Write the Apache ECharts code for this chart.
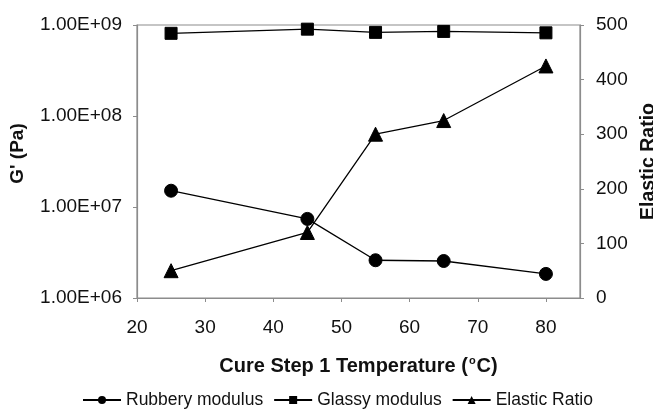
<!DOCTYPE html>
<html>
<head>
<meta charset="utf-8">
<script src="https://cdn.jsdelivr.net/npm/echarts@6/dist/echarts.min.js"></script>
<style>
  html, body { margin: 0; padding: 0; background: #fff; }
  #chart { width: 653px; height: 409px; }
</style>
</head>
<body>
<div id="chart"></div>
<script>
// Cure step 1 temperature (°C)
const temperatures = [25, 45, 55, 65, 80];
// Moduli in Pa
const rubberyModulus = [1.51e7, 7.4e6, 2.6e6, 2.55e6, 1.84e6];
const glassyModulus = [8.1e8, 9.0e8, 8.3e8, 8.5e8, 8.2e8];
// Glassy / rubbery ratio
const elasticRatio = [50, 120, 300, 325, 425];

const seriesNames = ['Rubbery modulus', 'Glassy modulus', 'Elastic Ratio'];

const FONT = '"Liberation Sans", Arial, sans-serif';
const frameColor = '#8c8c8c';

function pairs(xs, ys) {
  return xs.map((x, i) => [x, ys[i]]);
}

function sci(v) {
  const e = Math.round(Math.log10(v));
  return '1.00E+' + String(e).padStart(2, '0');
}

const chart = echarts.init(document.getElementById('chart'), null, { renderer: 'canvas' });

const lineStyle = { color: '#000', width: 1.3 };
const itemStyle = { color: '#000', borderColor: '#000' };

chart.setOption({
  animation: false,
  backgroundColor: '#fff',
  textStyle: { fontFamily: FONT },
  grid: {
    left: 137, right: 73, top: 25, bottom: 111,
    containLabel: false,
    outerBoundsMode: 'none',
    show: true, borderColor: frameColor, borderWidth: 1.2
  },
  legend: {
    top: 391,
    left: 82,
    padding: 0,
    data: seriesNames,
    itemWidth: 38,
    itemHeight: 10,
    itemGap: 10,
    textStyle: { fontFamily: FONT, fontSize: 17.5, color: '#111' }
  },
  xAxis: {
    type: 'value',
    min: 20,
    max: 85,
    interval: 10,
    name: '{t|Cure Step 1 Temperature (}{s|o}{t|C)}',
    nameLocation: 'middle',
    nameGap: 57,
    nameTextStyle: {
      rich: {
        t: { fontFamily: FONT, fontSize: 20, fontWeight: 'bold', color: '#111' },
        s: { fontFamily: FONT, fontSize: 11, fontWeight: 'bold', color: '#111', verticalAlign: 'top', padding: [0, 1, 11, 1] }
      }
    },
    axisLine: { show: true, lineStyle: { color: frameColor, width: 1.2 } },
    axisTick: { show: true, length: 4, lineStyle: { color: frameColor } },
    axisLabel: { showMaxLabel: false, fontFamily: FONT, fontSize: 19, color: '#111', margin: 20 },
    splitLine: { show: false }
  },
  yAxis: [
    {
      type: 'log',
      logBase: 10,
      min: 1e6,
      max: 1e9,
      position: 'left',
      name: "G' (Pa)",
      nameLocation: 'middle',
      nameRotate: 90,
      nameGap: 110,
      nameTextStyle: { fontFamily: FONT, fontSize: 19, fontWeight: 'bold', color: '#111', padding: [0, 0, 0, 16] },
      axisLine: { show: true, lineStyle: { color: frameColor, width: 1.2 } },
      axisTick: { show: true, length: 4, lineStyle: { color: frameColor } },
      axisLabel: { formatter: sci, fontFamily: FONT, fontSize: 19, color: '#111', margin: 15 },
      splitLine: { show: false }
    },
    {
      type: 'value',
      min: 0,
      max: 500,
      interval: 100,
      position: 'right',
      name: 'Elastic Ratio',
      nameLocation: 'middle',
      nameRotate: 90,
      nameGap: 50,
      nameTextStyle: { fontFamily: FONT, fontSize: 19.5, fontWeight: 'bold', color: '#111' },
      axisLine: { show: true, lineStyle: { color: frameColor, width: 1.2 } },
      axisTick: { show: true, length: 4, lineStyle: { color: frameColor } },
      axisLabel: { fontFamily: FONT, fontSize: 19, color: '#111', margin: 16 },
      splitLine: { show: false }
    }
  ],
  series: [
    {
      name: seriesNames[0],
      type: 'line',
      yAxisIndex: 0,
      data: pairs(temperatures, rubberyModulus),
      symbol: 'circle',
      symbolSize: 13,
      lineStyle, itemStyle
    },
    {
      name: seriesNames[1],
      type: 'line',
      yAxisIndex: 0,
      data: pairs(temperatures, glassyModulus),
      symbol: 'rect',
      symbolSize: 12,
      lineStyle, itemStyle
    },
    {
      name: seriesNames[2],
      type: 'line',
      yAxisIndex: 1,
      data: pairs(temperatures, elasticRatio),
      symbol: 'triangle',
      symbolSize: 14,
      lineStyle, itemStyle
    }
  ]
});
</script>
</body>
</html>
